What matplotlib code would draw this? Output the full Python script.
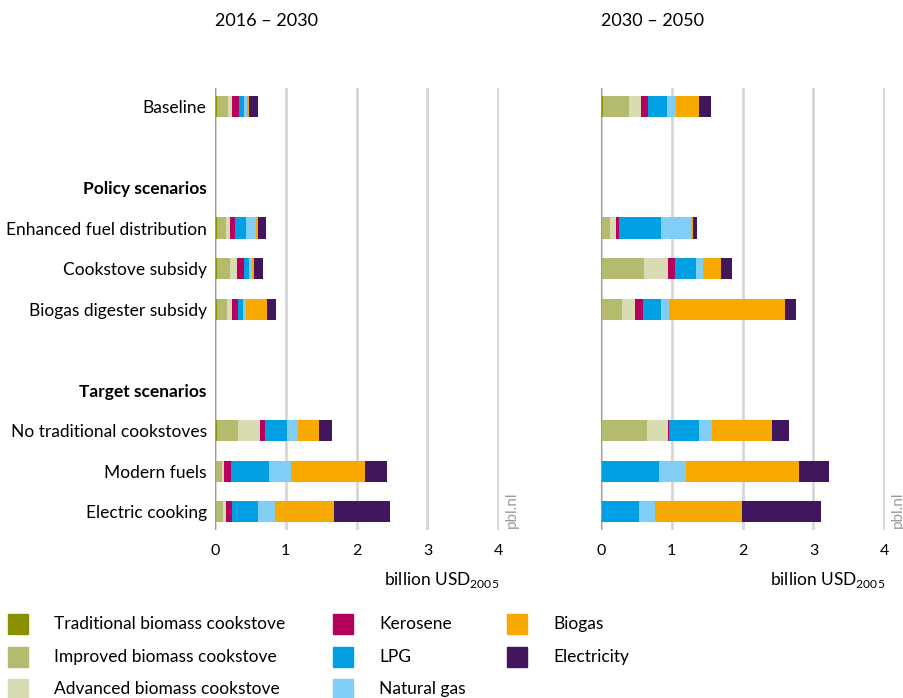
import matplotlib
matplotlib.use("Agg")
import matplotlib.pyplot as plt
from matplotlib.patches import Rectangle
import numpy as np

plt.rcParams['font.family'] = ['Lato', 'DejaVu Sans']
plt.rcParams['mathtext.fontset'] = 'custom'
plt.rcParams['mathtext.rm'] = 'Lato'

# y axis rows (blank rows are gaps)
row_labels = ["Baseline", "", "Policy scenarios", "Enhanced fuel distribution",
              "Cookstove subsidy", "Biogas digester subsidy", "", "Target scenarios",
              "No traditional cookstoves", "Modern fuels", "Electric cooking"]
bold_rows = ["Policy scenarios", "Target scenarios"]
scenarios = ["Baseline", "Enhanced fuel distribution", "Cookstove subsidy",
             "Biogas digester subsidy", "No traditional cookstoves", "Modern fuels",
             "Electric cooking"]

series = ["Traditional biomass cookstove", "Improved biomass cookstove",
          "Advanced biomass cookstove", "Kerosene", "LPG", "Natural gas",
          "Biogas", "Electricity"]
colors = ["#8a9000", "#b5bb6e", "#d9dcb2", "#b5005e", "#00a0e2", "#80cef5",
          "#f7a900", "#41165c"]

periods = ["2016 – 2030", "2030 – 2050"]

# billion USD2005, one row per series, one column per scenario
vals_2016_2030 = np.array([
    [0.024, 0.024, 0.024, 0.024, 0.024, 0.0, 0.0],
    [0.16, 0.13, 0.19, 0.146, 0.30, 0.10, 0.113],
    [0.056, 0.056, 0.10, 0.07, 0.31, 0.028, 0.042],
    [0.10, 0.07, 0.10, 0.085, 0.07, 0.10, 0.085],
    [0.07, 0.155, 0.07, 0.07, 0.31, 0.536, 0.367],
    [0.042, 0.14, 0.042, 0.042, 0.155, 0.31, 0.244],
    [0.028, 0.028, 0.028, 0.296, 0.296, 1.044, 0.827],
    [0.127, 0.113, 0.127, 0.127, 0.183, 0.31, 0.79],
])
vals_2030_2050 = np.array([
    [0.033, 0.019, 0.0, 0.014, 0.0, 0.0, 0.0],
    [0.367, 0.113, 0.612, 0.287, 0.654, 0.0, 0.0],
    [0.169, 0.085, 0.339, 0.184, 0.296, 0.0, 0.0],
    [0.099, 0.042, 0.099, 0.113, 0.014, 0.0, 0.0],
    [0.268, 0.593, 0.296, 0.254, 0.424, 0.824, 0.541],
    [0.127, 0.424, 0.099, 0.113, 0.184, 0.381, 0.221],
    [0.325, 0.028, 0.254, 1.638, 0.847, 1.595, 1.233],
    [0.169, 0.056, 0.155, 0.155, 0.24, 0.424, 1.115],
])

fig = plt.figure(figsize=(9.04, 6.98), dpi=100)
ypos = [row_labels.index(s) for s in scenarios]
panels = [fig.add_axes([0.2378, 0.2407, 0.3142, 0.633]),
          fig.add_axes([0.6648, 0.2407, 0.3142, 0.633])]

for i, (ax, vals) in enumerate(zip(panels, [vals_2016_2030, vals_2030_2050])):
    left = np.zeros(len(scenarios))
    for name, col, v in zip(series, colors, vals):
        ax.barh(ypos, v, left=left, height=0.52, color=col, label=name, zorder=3)
        left += v
    ax.set_xlim(0, 4.01)
    ax.set_ylim(10.45, -0.45)
    ax.set_xticks([0, 1, 2, 3, 4])
    ax.set_xticklabels(["0", "1", "2", "3", "4"], fontsize=11.5)
    ax.xaxis.grid(True, color="#d6d6d6", lw=2, zorder=0)
    ax.axvline(0, color="#9a9a9a", lw=1.5, zorder=4)
    for sp in ax.spines.values():
        sp.set_visible(False)
    ax.tick_params(length=0, pad=10)
    ax.set_yticks(range(len(row_labels)))
    if i == 0:
        ax.set_yticklabels(row_labels, fontsize=12.5)
        for t in ax.get_yticklabels():
            if t.get_text() in bold_rows:
                t.set_fontweight("bold")
        ax.tick_params(axis="y", pad=6)
    else:
        ax.set_yticklabels([])
    ax.text(0, 1.152, periods[i], transform=ax.transAxes, fontsize=13,
            ha="left", va="center")
    ax.text(1.0, -0.113, "billion USD$_{2005}$", transform=ax.transAxes,
            fontsize=12.5, ha="right", va="center")
    ax.text(1.045, 0.005, "pbl.nl", transform=ax.transAxes, rotation=90,
            fontsize=11, color="#9a9a9a", ha="center", va="bottom")

# legend, three columns
W, H = 904.0, 698.0
cols_x = [(8, 54), (333, 379), (507, 553)]
rows_y = [624, 657, 689]
for k, (name, col) in enumerate(zip(series, colors)):
    cx, tx = cols_x[k // 3]
    cy = rows_y[k % 3]
    fig.patches.append(Rectangle((cx / W, 1 - (cy + 10) / H), 20 / W, 20 / H,
                                 transform=fig.transFigure, color=col))
    fig.text(tx / W, 1 - cy / H, name, fontsize=12.5, va="center", ha="left")

fig.savefig("out.png", dpi=100)
